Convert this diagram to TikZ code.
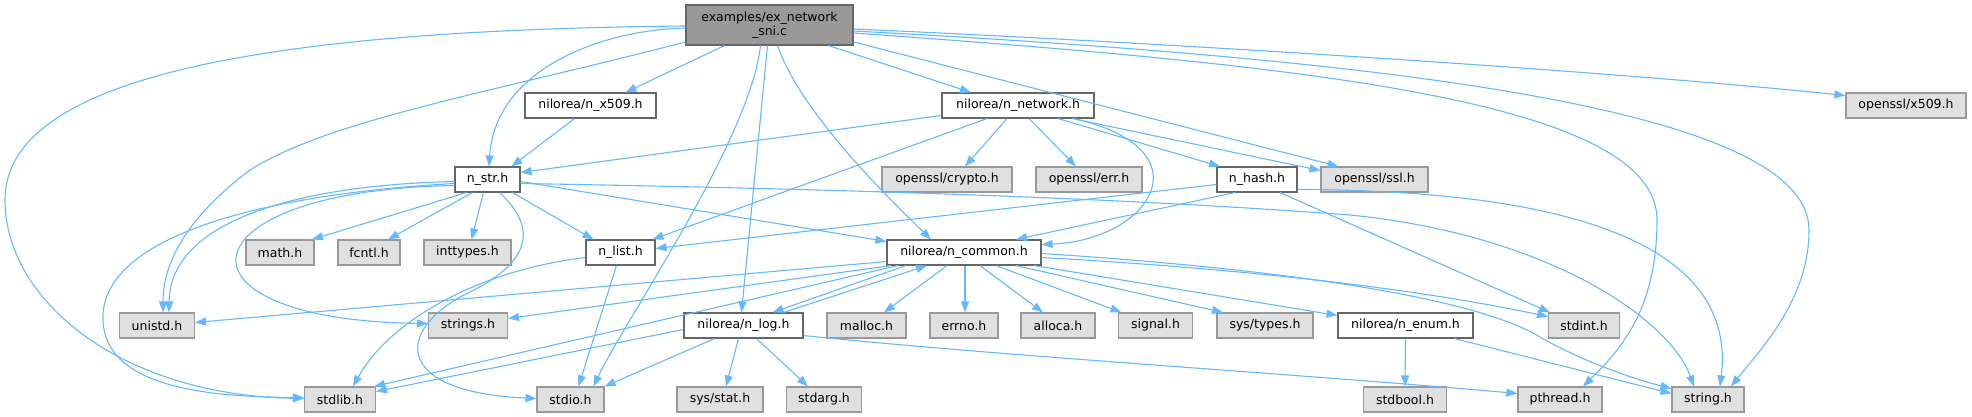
\documentclass[tikz,border=0pt]{standalone}
\usepackage{fontspec}
\setmainfont{DejaVu Sans}
\usetikzlibrary{arrows.meta}
\definecolor{edgec}{HTML}{63B8FF}
\definecolor{cdark}{HTML}{666666}
\definecolor{cmid}{HTML}{999999}
\definecolor{clight}{HTML}{E0E0E0}
\begin{document}
\begin{tikzpicture}[x=1pt,y=-1pt,
  box/.style={draw=cdark,fill=white,line width=1.1pt,minimum height=25pt,inner sep=0pt,
    font=\fontsize{12.5}{14}\selectfont},
  ext/.style={box,draw=cmid,fill=clight},
  e/.style={draw=edgec,line width=1.1pt,-{Triangle[length=11pt,width=8pt]}}]
\useasboundingbox (0,0) rectangle (1972,417);
% nodes
\node[box,fill=cmid,minimum width=167pt,minimum height=40pt,align=center] (root) at (769.5,25) {examples/ex\_network\\\_sni.c};
\node[box,minimum width=131pt] (nx509) at (590.5,105.5) {nilorea/n\_x509.h};
\node[box,minimum width=152pt] (nnet) at (1018,105.5) {nilorea/n\_network.h};
\node[ext,minimum width=120pt] (x509) at (1906,105.5) {openssl/x509.h};
\node[box,minimum width=65pt] (nstr) at (487.5,179.5) {n\_str.h};
\node[ext,minimum width=130pt] (crypto) at (947,179.5) {openssl/crypto.h};
\node[ext,minimum width=106pt] (err) at (1089,179.5) {openssl/err.h};
\node[box,minimum width=80pt] (nhash) at (1257,179.5) {n\_hash.h};
\node[ext,minimum width=107pt] (ssl) at (1374.5,179.5) {openssl/ssl.h};
\node[ext,minimum width=68pt] (math) at (280,252.5) {math.h};
\node[ext,minimum width=62pt] (fcntl) at (369,252.5) {fcntl.h};
\node[ext,minimum width=87pt] (inttypes) at (467.5,252.5) {inttypes.h};
\node[box,minimum width=69pt] (nlist) at (620.5,252.5) {n\_list.h};
\node[box,minimum width=154pt] (ncommon) at (964,252.5) {nilorea/n\_common.h};
\node[ext,minimum width=75pt] (unistd) at (157,325.5) {unistd.h};
\node[ext,minimum width=79pt] (strings) at (468,325.5) {strings.h};
\node[box,minimum width=119pt] (nlog) at (743.5,325.5) {nilorea/n\_log.h};
\node[ext,minimum width=79pt] (malloc) at (866.5,325.5) {malloc.h};
\node[ext,minimum width=68pt] (errno) at (964,325.5) {errno.h};
\node[ext,minimum width=74pt] (alloca) at (1058,325.5) {alloca.h};
\node[ext,minimum width=74pt] (signal) at (1155.5,325.5) {signal.h};
\node[ext,minimum width=96pt] (systypes) at (1265,325.5) {sys/types.h};
\node[box,minimum width=135pt] (nenum) at (1405.5,325.5) {nilorea/n\_enum.h};
\node[ext,minimum width=71pt] (stdint) at (1584,325.5) {stdint.h};
\node[ext,minimum width=71pt] (stdlib) at (340,399.5) {stdlib.h};
\node[ext,minimum width=67pt] (stdio) at (570.5,399.5) {stdio.h};
\node[ext,minimum width=86pt] (sysstat) at (720,399.5) {sys/stat.h};
\node[ext,minimum width=75pt] (stdarg) at (824,399.5) {stdarg.h};
\node[ext,minimum width=83pt] (stdbool) at (1405,399.5) {stdbool.h};
\node[ext,minimum width=84pt] (pthread) at (1560,399.5) {pthread.h};
\node[ext,minimum width=72pt] (string) at (1708,399.5) {string.h};
% root edges
\draw[e] ([xshift=-45]root.south) -- ([xshift=35]nx509.north);
\draw[e] ([yshift=-3]root.west) .. controls (600,30) and (495,70) .. ([xshift=1.5]nstr.north);
\draw[e] ([yshift=-17]root.west) .. controls (480,95) and (330,120) .. (250,170) .. controls (190,215) and (163,260) .. ([xshift=6]unistd.north);
\draw[e] ([yshift=-1]root.west) .. controls (250,30) and (5,80) .. (5,200) .. controls (5,300) and (120,395) .. ([yshift=1]stdlib.west);
\draw[e] ([xshift=-2]root.south) -- ([xshift=-2]nlog.north);
\draw[e] ([xshift=-9]root.south) .. controls (750,140) and (625,320) .. ([xshift=23]stdio.north);
\draw[e] ([xshift=8]root.south) .. controls (800,110) and (880,190) .. ([xshift=-33]ncommon.north);
\draw[e] ([xshift=59]root.south) -- ([xshift=-47]nnet.north);
\draw[e] ([yshift=-17]root.east) -- ([xshift=-36]ssl.north);
\draw[e] ([yshift=-4]root.east) .. controls (1150,42) and (1600,70) .. ([yshift=10]x509.west);
\draw[e] ([yshift=-6]root.east) .. controls (1400,60) and (1809,110) .. (1809,230) .. controls (1809,300) and (1760,350) .. ([xshift=23]string.north);
\draw[e] ([yshift=-8]root.east) .. controls (1300,65) and (1657,100) .. (1657,220) .. controls (1657,310) and (1620,350) .. ([xshift=23]pthread.north);
% n_x509
\draw[e] ([xshift=-16]nx509.south) -- ([xshift=24]nstr.north);
% n_network
\draw[e] ([yshift=-10]nnet.west) -- ([yshift=7]nstr.east);
\draw[e] ([xshift=-31]nnet.south) -- ([xshift=32]nlist.north);
\draw[e] ([xshift=-11]nnet.south) -- ([xshift=18]crypto.north);
\draw[e] ([xshift=11]nnet.south) -- ([xshift=-13]err.north);
\draw[e] ([xshift=40]nnet.south) -- ([xshift=-37]nhash.north);
\draw[e] ([xshift=54]nnet.south) -- ([yshift=9]ssl.west);
\draw[e] ([xshift=56]nnet.south) .. controls (1210,150) and (1150,240) .. ([yshift=8]ncommon.east);
% n_str
\draw[e] ([xshift=-21]nstr.south) -- ([xshift=32]math.north);
\draw[e] ([xshift=-15]nstr.south) -- ([xshift=19]fcntl.north);
\draw[e] ([xshift=-4]nstr.south) -- ([xshift=4]inttypes.north);
\draw[e] ([xshift=12]nstr.south) .. controls (535,225) and (535,260) .. (470,292) .. controls (395,328) and (390,392) .. ([yshift=1]stdio.west);
\draw[e] ([xshift=25]nstr.south) -- ([xshift=-27]nlist.north);
\draw[e] ([yshift=-2]nstr.west) .. controls (300,185) and (170,220) .. ([xshift=12]unistd.north);
\draw[e] ([yshift=-4]nstr.west) .. controls (250,195) and (100,240) .. (103,320) .. controls (105,385) and (200,397) .. ([yshift=2]stdlib.west);
\draw[e] ([yshift=-6]nstr.west) .. controls (180,190) and (160,320) .. ([yshift=2]strings.west);
\draw[e] ([yshift=-2]nstr.east) -- ([yshift=-2]ncommon.north west);
\draw[e] ([yshift=-4]nstr.east) .. controls (900,190) and (1150,200) .. (1350,215) .. controls (1550,235) and (1670,320) .. ([xshift=-14]string.north);
% n_hash
\draw[e] ([yshift=-5]nhash.west) -- ([yshift=4]nlist.east);
\draw[e] ([xshift=-22]nhash.south) -- ([xshift=52]ncommon.north);
\draw[e] ([xshift=23]nhash.south) -- ([xshift=-34]stdint.north);
\draw[e] ([yshift=-10]nhash.east) .. controls (1500,190) and (1740,220) .. ([xshift=12]string.north);
% n_list
\draw[e] ([yshift=-5]nlist.west) .. controls (480,270) and (390,320) .. ([xshift=13]stdlib.north);
\draw[e] ([xshift=-4]nlist.south) -- ([xshift=8]stdio.north);
% n_common
\draw[e] ([yshift=-9]ncommon.west) -- ([yshift=3]unistd.east);
\draw[e] ([xshift=-73]ncommon.south) -- ([yshift=7]strings.east);
\draw[e] ([xshift=-66]ncommon.south) -- ([xshift=-2]stdlib.north east);
\draw[e] ([xshift=-58]ncommon.south) -- ([xshift=29]nlog.north);
\draw[e] ([xshift=40]nlog.north) -- ([xshift=-37]ncommon.south);
\draw[e] ([xshift=-17]ncommon.south) -- ([xshift=17.5]malloc.north);
\draw[e] ([xshift=1]ncommon.south) -- ([xshift=1]errno.north);
\draw[e] ([xshift=16]ncommon.south) -- ([xshift=-15]alloca.north);
\draw[e] ([xshift=32]ncommon.south) -- ([xshift=-34]signal.north);
\draw[e] ([xshift=52]ncommon.south) -- ([xshift=-42]systypes.north);
\draw[e] ([xshift=70]ncommon.south) -- ([yshift=-3]nenum.north west);
\draw[e] ([yshift=-5]ncommon.east) .. controls (1300,272) and (1450,296) .. ([yshift=9]stdint.west);
\draw[e] ([yshift=-1]ncommon.east) .. controls (1300,270) and (1480,300) .. (1540,337) .. controls (1580,360) and (1630,378) .. ([yshift=11]string.west);
% n_log
\draw[e] ([yshift=-4]nlog.west) -- ([yshift=8]stdlib.east);
\draw[e] ([xshift=-29]nlog.south) -- (stdio.north east);
\draw[e] ([xshift=-5]nlog.south) -- ([xshift=6]sysstat.north);
\draw[e] ([xshift=13]nlog.south) -- ([xshift=-16]stdarg.north);
\draw[e] ([yshift=-10]nlog.east) .. controls (1000,356) and (1300,374) .. ([yshift=6]pthread.west);
% n_enum
\draw[e] (nenum.south) -- (stdbool.north);
\draw[e] ([xshift=49]nenum.south) -- ([yshift=6]string.west);
\end{tikzpicture}
\end{document}
